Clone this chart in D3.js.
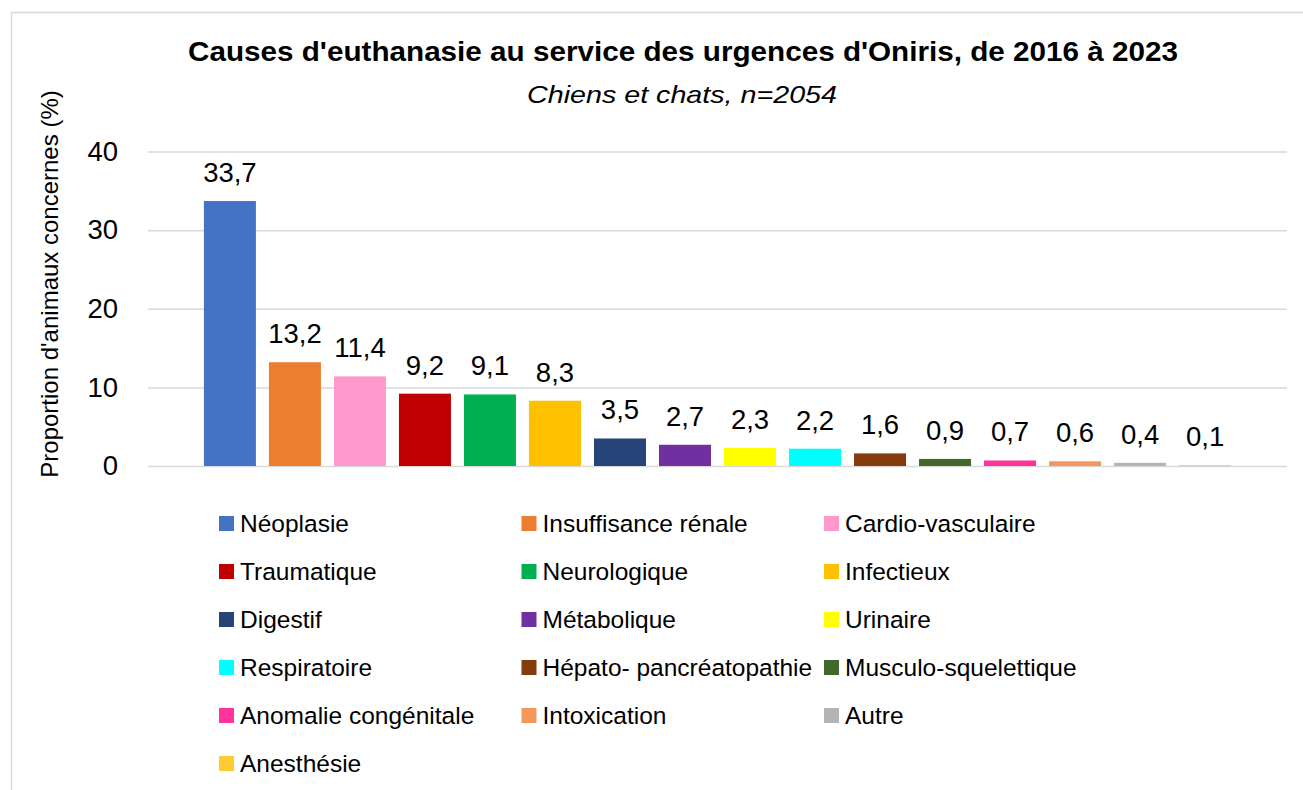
<!DOCTYPE html>
<html lang="fr">

<head>
    <meta charset="UTF-8">
    <script src="https://d3js.org/d3.v7.min.js"></script>
    <title>Causes d'euthanasie</title>
    <style>
        body { margin: 0; background: #fff; }
        text { font-family: "Liberation Sans", Arial, sans-serif; fill: #000; }
    </style>
</head>

<body>
    <script>
        // data
        let causes = ["Néoplasie", "Insuffisance rénale", "Cardio-vasculaire", "Traumatique", "Neurologique",
            "Infectieux", "Digestif", "Métabolique", "Urinaire", "Respiratoire", "Hépato- pancréatopathie",
            "Musculo-squelettique", "Anomalie congénitale", "Intoxication", "Autre", "Anesthésie"];
        let percents = [33.7, 13.2, 11.4, 9.2, 9.1, 8.3, 3.5, 2.7, 2.3, 2.2, 1.6, 0.9, 0.7, 0.6, 0.4, 0.1];
        let colours = ["#4472C4", "#ED7D31", "#FF99CC", "#C00000", "#00B050", "#FFC000", "#264478", "#7030A0",
            "#FFFF00", "#00FFFF", "#843C0C", "#43682B", "#FF3399", "#F4975A", "#B4B4B4", "#FFCA33"];
        let yTicks = [0, 10, 20, 30, 40];

        let width = 1303, height = 790;
        let plot = { left: 148, right: 1287, top: 151.5, bottom: 466 };

        let svg = d3.select("body").append("svg")
            .attr("width", width)
            .attr("height", height);

        // chart frame
        svg.append("rect")
            .attr("x", 11.5).attr("y", 12.5)
            .attr("width", 1400).attr("height", 900)
            .attr("fill", "none")
            .attr("stroke", "#d9d9d9")
            .attr("stroke-width", 1.5);

        let x = d3.scaleBand()
            .domain(causes)
            .range([plot.left, plot.right])
            .paddingInner(0.2)
            .paddingOuter(0.86);

        let y = d3.scaleLinear()
            .domain([0, 40])
            .range([plot.bottom, plot.top]);

        // y axis + gridlines
        let yAxis = svg.append("g")
            .attr("transform", "translate(" + plot.left + ",0)")
            .call(d3.axisLeft(y)
                .tickValues(yTicks)
                .tickSize(-(plot.right - plot.left))
                .tickPadding(30));
        yAxis.select(".domain").remove();
        yAxis.selectAll(".tick line")
            .attr("stroke", "#d9d9d9")
            .attr("stroke-width", 1.5);
        yAxis.selectAll(".tick text")
            .attr("font-size", 27.5)
            .attr("font-family", "Liberation Sans, Arial, sans-serif")
            .attr("fill", "#000");

        // bars
        svg.selectAll(".bar")
            .data(percents)
            .enter()
            .append("rect")
            .attr("class", "bar")
            .attr("x", (d, i) => x(causes[i]))
            .attr("y", d => y(d))
            .attr("width", x.bandwidth())
            .attr("height", d => y(0) - y(d))
            .attr("fill", (d, i) => colours[i]);

        // value labels, french decimal comma
        let fr = d3.formatLocale({ decimal: ",", thousands: " ", grouping: [3], currency: ["", " €"] });
        let fmt = fr.format(".1f");
        svg.selectAll(".val")
            .data(percents)
            .enter()
            .append("text")
            .attr("class", "val")
            .attr("x", (d, i) => x(causes[i]) + x.bandwidth() / 2)
            .attr("y", d => y(d) - 19)
            .attr("text-anchor", "middle")
            .attr("font-size", 27.5)
            .text(d => fmt(d));

        // titles
        svg.append("text")
            .attr("x", 683)
            .attr("y", 61)
            .attr("text-anchor", "middle")
            .attr("font-size", 27)
            .attr("font-weight", "bold")
            .attr("textLength", 990)
            .attr("lengthAdjust", "spacingAndGlyphs")
            .text("Causes d'euthanasie au service des urgences d'Oniris, de 2016 à 2023");

        svg.append("text")
            .attr("x", 682)
            .attr("y", 103)
            .attr("text-anchor", "middle")
            .attr("font-size", 24)
            .attr("font-style", "italic")
            .attr("textLength", 310)
            .attr("lengthAdjust", "spacingAndGlyphs")
            .text("Chiens et chats, n=2054");

        svg.append("text")
            .attr("transform", "translate(58,284) rotate(-90)")
            .attr("text-anchor", "middle")
            .attr("font-size", 24)
            .text("Proportion d'animaux concernes (%)");

        // legend, 3 columns
        let legend = svg.selectAll(".leg")
            .data(causes)
            .enter()
            .append("g")
            .attr("class", "leg")
            .attr("transform", (d, i) => "translate(" + (219 + (i % 3) * 302.5) + "," + (516 + Math.floor(i / 3) * 48) + ")");

        legend.append("rect")
            .attr("width", 15)
            .attr("height", 15)
            .attr("fill", (d, i) => colours[i]);

        legend.append("text")
            .attr("x", 21)
            .attr("y", 16)
            .attr("font-size", 24.5)
            .text(d => d);
    </script>
</body>

</html>
